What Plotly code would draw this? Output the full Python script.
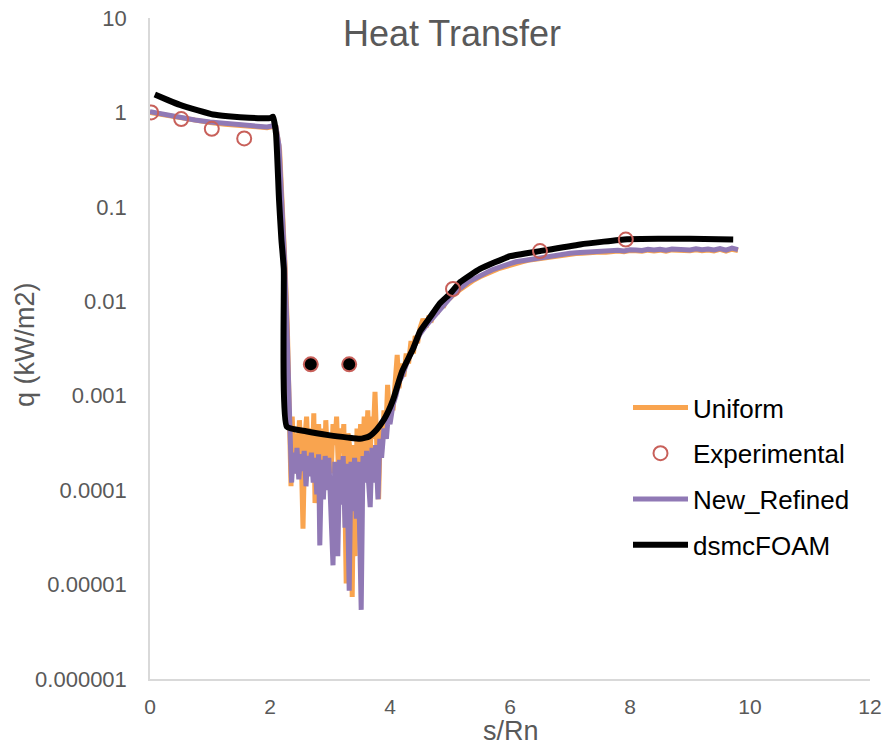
import plotly.graph_objects as go

# ---------------- data ----------------
exp_x = [0.02, 0.52, 1.03, 1.57, 5.05, 6.5, 7.93]
exp_y = [1.0, 0.85, 0.67, 0.53, 0.0135, 0.034, 0.045]

exp_fill_x = [2.68, 3.32]
exp_fill_y = [0.00215, 0.00215]

dsmc_x = [0.08, 0.3, 0.5, 0.8, 1.05, 1.3, 1.5, 1.8, 2.0, 2.05, 2.1, 2.15, 2.19, 2.23, 2.28,
          2.6, 3.0, 3.3, 3.5, 3.65, 3.78, 3.9, 3.97, 4.05, 4.2, 4.38, 4.5, 4.67, 4.83,
          5.0, 5.17, 5.5, 6.0, 6.5, 7.17, 7.95, 8.5, 9.0, 9.72]
dsmc_y = [1.55, 1.35, 1.2, 1.05, 0.95, 0.91, 0.89, 0.87, 0.87, 0.9, 0.6, 0.12, 0.045, 0.022, 0.00047,
          0.00042, 0.00038, 0.00036, 0.00035, 0.00037, 0.00044, 0.00056, 0.00068, 0.0009, 0.0018, 0.0031,
          0.0048, 0.0068, 0.0095, 0.012, 0.016, 0.022, 0.030, 0.034, 0.040, 0.0455, 0.046, 0.046, 0.045]

ref_x = [0.0, 0.25, 0.5, 0.75, 1.0, 1.25, 1.5, 1.75, 1.95, 2.05, 2.1, 2.15, 2.2, 2.24, 2.28, 2.31,
         2.33, 2.36, 2.39, 2.42, 2.45, 2.48, 2.51, 2.54, 2.57, 2.60, 2.63, 2.66, 2.69, 2.72, 2.75,
         2.78, 2.81, 2.83, 2.86, 2.89, 2.92, 2.95, 2.98, 3.01, 3.05, 3.08, 3.11, 3.13, 3.16, 3.19,
         3.22, 3.25, 3.28, 3.32, 3.35, 3.38, 3.41, 3.44, 3.47, 3.52, 3.55, 3.58, 3.61, 3.64, 3.67,
         3.70, 3.73, 3.76, 3.80, 3.83, 3.86, 3.90, 3.94, 3.97, 4.0, 4.05, 4.1, 4.15, 4.2, 4.3, 4.4,
         4.5, 4.6, 4.7, 4.8, 4.9,
         5.0, 5.1, 5.2, 5.3, 5.4, 5.5, 5.6, 5.7, 5.8, 5.9, 6.0, 6.1, 6.2, 6.3, 6.4, 6.5, 6.6, 6.7,
         6.8, 6.9, 7.0, 7.1, 7.2, 7.3, 7.4, 7.5, 7.6, 7.7, 7.8, 7.9, 8.0, 8.1, 8.2, 8.3, 8.4, 8.5,
         8.6, 8.7, 8.8, 8.9, 9.0, 9.1, 9.2, 9.3, 9.4, 9.5, 9.6, 9.7, 9.8]
ref_y = [1.02, 0.95, 0.88, 0.83, 0.79, 0.76, 0.73, 0.71, 0.70, 0.72, 0.70, 0.45, 0.12, 0.03, 0.006, 0.0012,
         3.0e-4, 1.2e-4, 2.5e-4, 1.5e-4, 2.8e-4, 1.3e-4, 2.4e-4, 1.6e-4, 2.6e-4, 1.1e-4, 2.3e-4,
         1.4e-4, 2.5e-4, 1.2e-4, 2.2e-4, 9e-5, 2.4e-4, 2.6e-5, 2.1e-4, 8e-5, 2.3e-4, 1.0e-4, 2.2e-4,
         6e-5, 1.6e-5, 2.0e-4, 9e-5, 2.0e-5, 2.1e-4, 7e-5, 2.3e-4, 4e-5, 1.9e-4, 8.6e-6, 2.0e-4,
         6e-5, 2.2e-4, 5e-5, 2.0e-4, 5.4e-6, 2.3e-4, 1.2e-4, 2.6e-4, 1.3e-4, 6.6e-5, 2.8e-4, 1.2e-4,
         3.0e-4, 8e-5, 3.5e-4, 2.2e-4, 4.5e-4, 3.5e-4, 6e-4, 5e-4, 8e-4, 1.0e-3, 1.4e-3, 1.6e-3,
         2.4e-3, 3.3e-3, 4.5e-3, 5.5e-3, 6.5e-3, 8.0e-3, 9.5e-3,
         0.0112, 0.0128, 0.0142, 0.0160, 0.0172, 0.0188, 0.0200, 0.0215, 0.0228, 0.0236, 0.0250,
         0.0262, 0.0268, 0.0280, 0.0284, 0.0295, 0.0300, 0.0306, 0.0310, 0.0318, 0.0322, 0.0326,
         0.0330, 0.0335, 0.0332, 0.0340, 0.0338, 0.0345, 0.0348, 0.0342, 0.0352, 0.0350, 0.0346,
         0.0355, 0.0350, 0.0356, 0.0348, 0.0358, 0.0352, 0.0355, 0.0350, 0.0360, 0.0352, 0.0358,
         0.0350, 0.0362, 0.0348, 0.0365, 0.0352]

uni_x = [0.0, 0.25, 0.5, 0.75, 1.0, 1.25, 1.5, 1.75, 1.95, 2.05, 2.1, 2.16, 2.21, 2.25, 2.29, 2.31,
         2.33, 2.35, 2.37, 2.40, 2.43, 2.46, 2.49, 2.52, 2.55, 2.58, 2.61, 2.64, 2.67, 2.70, 2.73,
         2.75, 2.78, 2.81, 2.84, 2.87, 2.90, 2.93, 2.96, 2.99, 3.02, 3.05, 3.08, 3.11, 3.14, 3.17,
         3.20, 3.23, 3.27, 3.30, 3.34, 3.37, 3.40, 3.42, 3.45, 3.48, 3.51, 3.54, 3.57, 3.60, 3.63,
         3.66, 3.69, 3.72, 3.75, 3.78, 3.81, 3.84, 3.87, 3.90, 3.93, 3.96, 3.99, 4.02, 4.05, 4.09,
         4.12, 4.15, 4.19, 4.23, 4.27, 4.31, 4.35, 4.39, 4.42, 4.46, 4.50, 4.55, 4.60, 4.65, 4.70,
         4.75, 4.80, 4.85, 4.90, 4.95,
         5.0, 5.1, 5.2, 5.3, 5.4, 5.5, 5.6, 5.7, 5.8, 5.9, 6.0, 6.1, 6.2, 6.3, 6.4, 6.5, 6.6, 6.7,
         6.8, 6.9, 7.0, 7.1, 7.2, 7.3, 7.4, 7.5, 7.6, 7.7, 7.8, 7.9, 8.0, 8.1, 8.2, 8.3, 8.4, 8.5,
         8.6, 8.7, 8.8, 8.9, 9.0, 9.1, 9.2, 9.3, 9.4, 9.5, 9.6, 9.7, 9.8]
uni_y = [1.0, 0.94, 0.87, 0.82, 0.78, 0.75, 0.72, 0.70, 0.69, 0.71, 0.70, 0.4, 0.1, 0.025, 0.005, 0.0012,
         4e-4, 1.1e-4, 6e-4, 2.0e-4, 4e-4, 1.5e-4, 5.5e-4, 2.5e-4, 3.9e-5, 3.5e-4, 6e-4, 2.0e-4,
         4.5e-4, 1.5e-4, 6.5e-4, 7.3e-5, 3.0e-4, 5e-4, 1.8e-4, 4.5e-4, 1.2e-4, 5.5e-4, 2.0e-4, 4e-4,
         1.5e-4, 5e-4, 3.0e-4, 6e-4, 1.6e-4, 4.5e-4, 2.5e-4, 5e-4, 1.03e-5, 4e-4, 2.5e-4, 7.4e-6,
         3.0e-4, 2.0e-5, 4.5e-4, 2.0e-4, 5e-4, 1.5e-4, 6e-4, 2.5e-4, 7e-4, 1.4e-4, 6e-4, 3.5e-4,
         1.1e-3, 2.5e-4, 8e-5, 5e-4, 3.0e-4, 7e-4, 4e-4, 1.3e-3, 6e-4, 9e-4, 7e-4, 1.5e-3, 2.7e-3,
         1.2e-3, 2.2e-3, 1.6e-3, 2.8e-3, 2.2e-3, 3.8e-3, 2.8e-3, 4.3e-3, 3.6e-3, 5.2e-3, 6.5e-3,
         5.3e-3, 7.0e-3, 6.5e-3, 8.0e-3, 7.8e-3, 9.2e-3, 9.0e-3, 0.0105,
         0.0108, 0.0124, 0.0138, 0.0155, 0.0168, 0.0182, 0.0194, 0.0210, 0.0220, 0.0230, 0.0242,
         0.0255, 0.0262, 0.0272, 0.0278, 0.0288, 0.0292, 0.0298, 0.0305, 0.0310, 0.0315, 0.0320,
         0.0322, 0.0328, 0.0325, 0.0332, 0.0330, 0.0338, 0.0340, 0.0335, 0.0344, 0.0342, 0.0338,
         0.0348, 0.0342, 0.0348, 0.0340, 0.0350, 0.0344, 0.0348, 0.0342, 0.0352, 0.0344, 0.0350,
         0.0342, 0.0354, 0.0340, 0.0356, 0.0345]

x_ticks = [0, 2, 4, 6, 8, 10, 12]
y_tickvals = [10, 1, 0.1, 0.01, 0.001, 0.0001, 0.00001, 0.000001]
y_ticktext = ["10", "1", "0.1", "0.01", "0.001", "0.0001", "0.00001", "0.000001"]

# ---------------- styles ----------------
ORANGE = "#f9a44f"
PURPLE = "#9079b5"
RED = "#c8605a"
GRAY = "#595959"
AXIS = "#d9d9d9"

fig = go.Figure()
fig.add_trace(go.Scatter(x=uni_x, y=uni_y, mode="lines", name="Uniform",
                         line=dict(color=ORANGE, width=5), legendrank=1,
                         legendgroup="a"))
fig.add_trace(go.Scatter(x=ref_x, y=ref_y, mode="lines", name="New_Refined",
                         line=dict(color=PURPLE, width=5), legendrank=3,
                         legendgroup="c"))
fig.add_trace(go.Scatter(x=dsmc_x, y=dsmc_y, mode="lines", name="dsmcFOAM",
                         line=dict(color="black", width=6, shape="spline", smoothing=0.4),
                         legendrank=4, legendgroup="d"))
fig.add_trace(go.Scatter(x=exp_x, y=exp_y, mode="markers", name="Experimental",
                         marker=dict(symbol="circle-open", size=14, color=RED,
                                     line=dict(width=2, color=RED)),
                         legendrank=2, legendgroup="b"))
fig.add_trace(go.Scatter(x=exp_fill_x, y=exp_fill_y, mode="markers", showlegend=False,
                         marker=dict(symbol="circle", size=14, color="black",
                                     line=dict(width=2, color=RED))))

PLOT_TOP, PLOT_BOTTOM, PLOT_LEFT, PLOT_RIGHT = 18, 679, 150, 870
PH = PLOT_BOTTOM - PLOT_TOP
PW = PLOT_RIGHT - PLOT_LEFT

fig.update_layout(
    width=885, height=749,
    margin=dict(l=PLOT_LEFT, r=885 - PLOT_RIGHT, t=PLOT_TOP, b=749 - PLOT_BOTTOM,
                autoexpand=False),
    paper_bgcolor="white", plot_bgcolor="white",
    font=dict(family="Liberation Sans, Arial", color=GRAY, size=16),
    title=dict(text="Heat Transfer", x=452 / 885, xanchor="center",
               y=1 - 33 / 749, yanchor="middle", yref="container",
               font=dict(size=36, color=GRAY, family="Liberation Sans, Arial")),
    showlegend=True,
    legend=dict(x=(628 - PLOT_LEFT) / PW, xanchor="left",
                y=(PLOT_BOTTOM - 384) / PH, yanchor="top",
                font=dict(size=26, color="black", family="Liberation Sans, Arial"),
                tracegroupgap=9, traceorder="grouped",
                bgcolor="rgba(0,0,0,0)", itemwidth=55),
    xaxis=dict(range=[0, 12], tickvals=x_ticks, ticktext=[str(v) for v in x_ticks],
               showgrid=False, zeroline=False, showline=True, linecolor=AXIS, linewidth=1.5,
               ticks="outside", ticklen=8, tickcolor="rgba(0,0,0,0)", automargin=False,
               tickfont=dict(family="Liberation Sans Narrow, Liberation Sans", size=21, color=GRAY)),
    yaxis=dict(type="log", range=[-6, 1], tickvals=y_tickvals, ticktext=y_ticktext,
               showgrid=False, zeroline=False, showline=True, linecolor=AXIS, linewidth=1.5,
               ticks="outside", ticklen=17, tickcolor="rgba(0,0,0,0)", automargin=False,
               tickfont=dict(size=22, color=GRAY)),
    annotations=[
        dict(text="q (kW/m2)", textangle=-90, xref="paper", yref="paper",
             x=(25 - PLOT_LEFT) / PW, y=(PLOT_BOTTOM - 345) / PH, xanchor="center", yanchor="middle",
             showarrow=False, font=dict(size=27, color=GRAY, family="Liberation Sans, Arial")),
        dict(text="s/Rn", xref="paper", yref="paper",
             x=(511 - PLOT_LEFT) / PW, y=(PLOT_BOTTOM - 731) / PH, xanchor="center", yanchor="middle",
             showarrow=False,
             font=dict(size=27, color=GRAY, family="Liberation Sans Narrow, Liberation Sans")),
    ],
)

fig.write_html("out.html")
